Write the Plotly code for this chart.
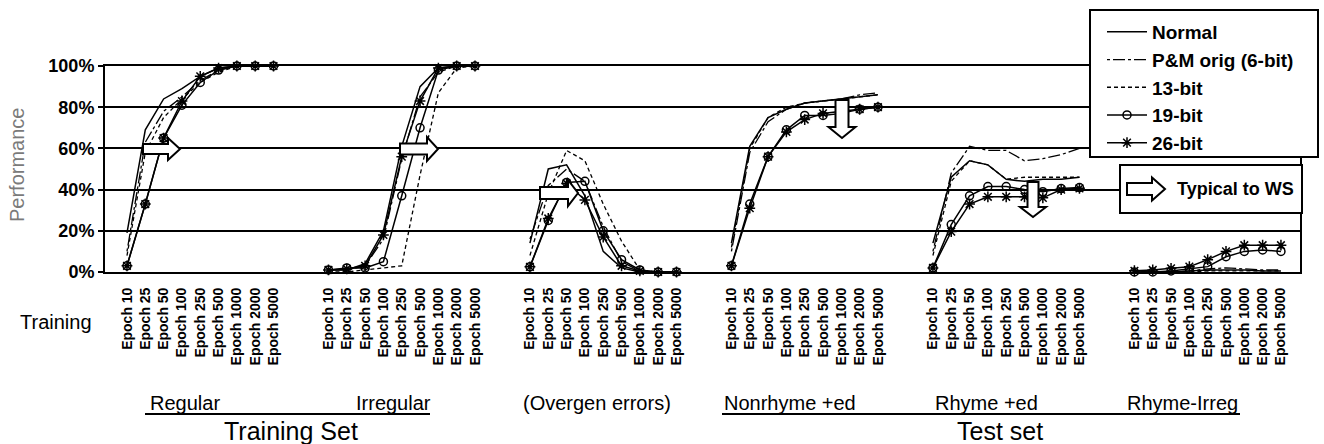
import plotly.graph_objects as go

# ---------------- data ----------------
epochs = ["Epoch 10", "Epoch 25", "Epoch 50", "Epoch 100", "Epoch 250",
          "Epoch 500", "Epoch 1000", "Epoch 2000", "Epoch 5000"]
groups = ["Regular", "Irregular", "(Overgen errors)",
          "Nonrhyme +ed", "Rhyme +ed", "Rhyme-Irreg"]
series_names = ["Normal", "P&M orig (6-bit)", "13-bit", "19-bit", "26-bit"]

# values in %, 9 epochs per group, groups in the order above
normal = [19, 69, 84, 89, 95, 99, 100, 100, 100,
          1, 1, 4, 20, 61, 90, 99, 100, 100,
          14, 50, 52, 37, 10, 2, 0, 0, 0,
          14, 61, 75, 79, 82, 83, 84, 85, 86,
          14, 46, 54, 52, 45, 44, 45, 45, 46,
          0, 0, 0, 0.5, 1, 1, 1, 0.5, 0.5]
pm6 = [10, 63, 78, 85, 93, 98, 100, 100, 100,
       1, 1, 3, 16, 55, 85, 97, 100, 100,
       16, 42, 50, 44, 22, 5, 0.5, 0, 0,
       10, 58, 73, 79, 82, 83, 84, 86, 87,
       10, 48, 61, 59, 59, 54, 55, 57, 60,
       0, 0, 0, 0.5, 1.5, 2, 1.5, 1, 1]
bit13 = [8, 58, 75, 84, 92, 97, 100, 100, 100,
         0, 0, 1, 2, 3, 47, 87, 99, 100,
         8, 38, 59, 54, 33, 15, 1, 0, 0,
         12, 60, 75, 80, 82, 83, 84, 85, 86,
         8, 44, 54, 52, 45, 46, 46, 46, 46,
         0, 0, 0, 0, 0.5, 0.6, 0.6, 0.6, 0.6]
bit19 = [3, 33, 65, 81, 92, 98, 100, 100, 100,
         1, 2, 2, 5, 37, 70, 98, 100, 100,
         2.5, 25, 43.5, 44, 20, 6, 1, 0, 0,
         3, 33, 56, 69, 76, 76, 77, 79, 80,
         2, 23, 37, 41.5, 41.5, 40, 39, 40.5, 41,
         0, 0, 0.5, 1.5, 2.6, 7.4, 10, 10.7, 10]
bit26 = [3, 33, 65, 83, 95, 99, 100, 100, 100,
         1, 1.5, 3, 18, 56, 83, 99, 100, 100,
         2.5, 26, 43, 35, 17, 3, 0.5, 0, 0,
         3, 31, 56, 68, 74, 77, 78, 79, 80,
         2, 19.6, 33, 36.5, 36.5, 36.5, 36, 40, 40.6,
         0.6, 1, 1.8, 2.6, 6, 10, 13, 13, 13]
y_ticks = [0, 20, 40, 60, 80, 100]
y_ticklabels = ["0%", "20%", "40%", "60%", "80%", "100%"]

# ---------------- layout helpers ----------------
GAP = 2
N = len(epochs)
FONT = "Arial, Liberation Sans, Helvetica, sans-serif"
W, H = 1324, 444
PL, PR, PT, PB = 105, 1300, 66, 272


def px_x(px):
    return (px - PL) / (PR - PL)


def px_y(py):
    return (PB - py) / (PB - PT)


def with_gaps(values):
    xs, ys = [], []
    for g in range(len(groups)):
        for i in range(N):
            xs.append(g * (N + GAP) + i)
            ys.append(values[g * N + i])
        xs.append(None)
        ys.append(None)
    return xs, ys


tickvals = [g * (N + GAP) + i for g in range(len(groups)) for i in range(N)]
ticktext = [epochs[i] for g in range(len(groups)) for i in range(N)]

styles = [
    dict(mode="lines", line=dict(color="black", width=1.5, dash="solid")),
    dict(mode="lines", line=dict(color="black", width=1.3, dash="3px,3px,12px,3px")),
    dict(mode="lines", line=dict(color="black", width=1.3, dash="4px,3px")),
    dict(mode="lines+markers", line=dict(color="black", width=1.5),
         marker=dict(symbol="circle-open", size=8, color="black", line=dict(width=1.5))),
    dict(mode="lines+markers", line=dict(color="black", width=1.5),
         marker=dict(symbol="asterisk-open", size=9, color="black", line=dict(width=1.5))),
]

fig = go.Figure()
for name, vals, st in zip(series_names, [normal, pm6, bit13, bit19, bit26], styles):
    xs, ys = with_gaps(vals)
    fig.add_trace(go.Scatter(x=xs, y=ys, name=name, connectgaps=False,
                             cliponaxis=False, legendgroup=name, **st))

# ---------------- decorations ----------------
def right_arrow(x0, x1, x2, yc, sh, hh):
    pts = [(x0, yc - sh), (x1, yc - sh), (x1, yc - hh), (x2, yc),
           (x1, yc + hh), (x1, yc + sh), (x0, yc + sh)]
    return "M " + " L ".join(f"{px_x(a):.5f},{px_y(b):.5f}" for a, b in pts) + " Z"


def down_arrow(xc, top, head, tip, sw, hw):
    pts = [(xc - sw, top), (xc + sw, top), (xc + sw, head), (xc + hw, head),
           (xc, tip), (xc - hw, head), (xc - sw, head)]
    return "M " + " L ".join(f"{px_x(a):.5f},{px_y(b):.5f}" for a, b in pts) + " Z"


arrow_paths = [
    right_arrow(143, 168, 180, 149, 5, 11),
    right_arrow(400, 427, 438, 149, 5.5, 12),
    right_arrow(540, 568, 578, 193, 6, 13),
    down_arrow(842, 100, 127, 138, 6.5, 13.5),
    down_arrow(1033, 182, 207, 217, 5.5, 13),
]

shapes = []
for p in arrow_paths:
    shapes.append(dict(type="path", path=p, xref="paper", yref="paper",
                       fillcolor="white", line=dict(color="black", width=2), layer="above"))

# legend frame (legend itself drawn on top, borderless)
shapes.append(dict(type="rect", xref="paper", yref="paper",
                   x0=px_x(1090), x1=px_x(1318), y0=px_y(157), y1=px_y(10),
                   fillcolor="white", line=dict(color="black", width=2), layer="above"))

# "Typical to WS" box
shapes.append(dict(type="rect", xref="paper", yref="paper",
                   x0=px_x(1120), x1=px_x(1302), y0=px_y(213), y1=px_y(165),
                   fillcolor="white", line=dict(color="black", width=2), layer="above"))
shapes.append(dict(type="path", path=right_arrow(1127, 1152, 1165, 189, 6, 11.5),
                   xref="paper", yref="paper", fillcolor="white",
                   line=dict(color="black", width=2), layer="above"))

# underlines for group captions
for xa, xb in [(145, 430), (722, 1240)]:
    shapes.append(dict(type="line", xref="paper", yref="paper",
                       x0=px_x(xa), x1=px_x(xb), y0=px_y(414), y1=px_y(414),
                       line=dict(color="black", width=2)))

annotations = [
    dict(text="Typical to WS", x=px_x(1175), y=px_y(189), xanchor="left",
         font=dict(size=18, weight="bold", color="black")),
    dict(text="Performance", x=px_x(17), y=px_y(165), textangle=-90,
         font=dict(size=20, color="#7a7a7a")),
    dict(text="Training", x=px_x(56), y=px_y(322),
         font=dict(size=20, color="black")),
    dict(text="Training Set", x=px_x(291), y=px_y(431),
         font=dict(size=25, color="black")),
    dict(text="Test set", x=px_x(1000), y=px_y(431),
         font=dict(size=25, color="black")),
]
label_px = [185, 393, 597, 790, 986, 1182]
for lab, lx in zip(groups, label_px):
    annotations.append(dict(text=lab, x=px_x(lx), y=px_y(403),
                            font=dict(size=20, color="black")))
for a in annotations:
    a.update(xref="paper", yref="paper", showarrow=False)
    a.setdefault("xanchor", "center")
    a["yanchor"] = "middle"

fig.update_layout(
    width=W, height=H, autosize=False,
    margin=dict(l=PL, r=W - PR, t=PT, b=H - PB, pad=0),
    paper_bgcolor="white", plot_bgcolor="white",
    font=dict(family=FONT, color="black"),
    showlegend=True,
    legend=dict(x=px_x(1102), y=px_y(13), xanchor="left", yanchor="top",
                bgcolor="rgba(0,0,0,0)", borderwidth=0,
                font=dict(size=19, weight="bold", color="black"),
                itemwidth=40, tracegroupgap=0, traceorder="normal"),
    xaxis=dict(range=[-1.2, 64.04], tickmode="array", tickvals=tickvals,
               ticktext=ticktext, tickangle=-90, showgrid=False, zeroline=False,
               showline=True, linecolor="black", linewidth=2, mirror=True,
               ticks="", ticklabelstandoff=8,
               tickfont=dict(size=14, weight="bold", color="black")),
    yaxis=dict(range=[0, 100], tickmode="array", tickvals=y_ticks,
               ticktext=y_ticklabels,
               showgrid=True, gridcolor="black", gridwidth=2, zeroline=False,
               showline=True, linecolor="black", linewidth=2, mirror=True,
               ticks="outside", ticklen=5, tickcolor="black", tickwidth=2,
               tickfont=dict(size=18, weight="bold", color="black")),
    shapes=shapes,
    annotations=annotations,
)

fig.write_html("out.html",
               config={"displayModeBar": False},
               post_script="document.body.style.margin='0';"
                           "document.body.style.overflow='hidden';")
